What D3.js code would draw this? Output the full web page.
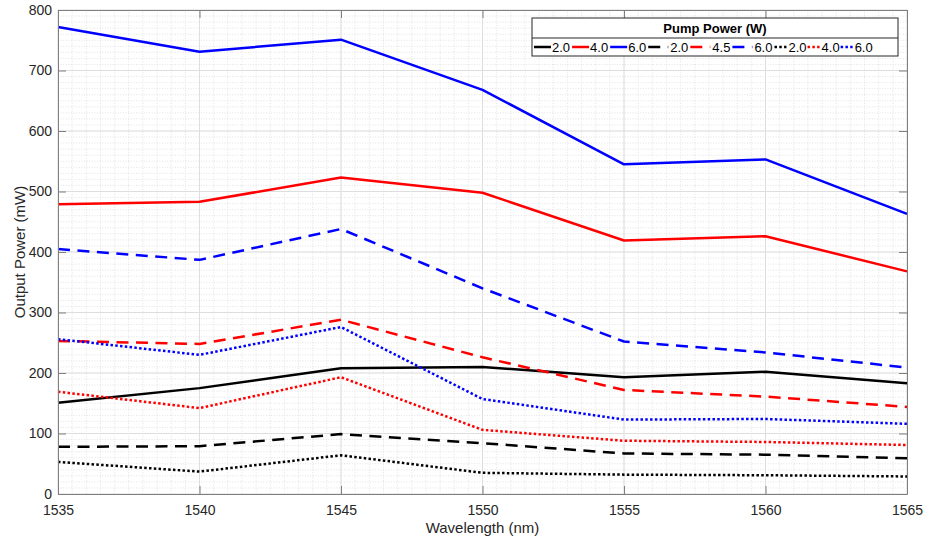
<!DOCTYPE html>
<html>
<head>
<meta charset="utf-8">
<script src="https://cdn.jsdelivr.net/npm/d3@7"></script>
<style>
  html, body { margin: 0; padding: 0; background: #fff; }
  svg { display: block; font-family: "Liberation Sans", Arial, sans-serif; }
</style>
</head>
<body>
<svg id="chart" width="926" height="541"></svg>
<script>
// Wavelength sweep (nm)
const wavelengths = [1535, 1540, 1545, 1550, 1555, 1560, 1565];

// Output power (mW) per configuration
const solid_2_0  = [151, 175, 208, 210, 193, 202, 183];
const solid_4_0  = [479, 483, 523, 498, 419, 426, 368];
const solid_6_0  = [772, 731, 751, 668, 545, 553, 463];
const dashed_2_0 = [78, 79, 99, 84, 67, 65, 59];
const dashed_4_5 = [253, 248, 288, 226, 172, 161, 144];
const dashed_6_0 = [405, 387, 438, 340, 252, 234, 209];
const dotted_2_0 = [53, 37, 64, 35, 32, 31, 29];
const dotted_4_0 = [169, 142, 193, 106, 88, 86, 81];
const dotted_6_0 = [256, 230, 276, 157, 123, 124, 116];

// Pump power labels, in legend order
const pumpLabels = ["2.0", "4.0", "6.0", "2.0", "4.5", "6.0", "2.0", "4.0", "6.0"];

const xTicks = [1535, 1540, 1545, 1550, 1555, 1560, 1565];
const yTicks = [0, 100, 200, 300, 400, 500, 600, 700, 800];

const styles = {
  solid:  { dash: null,      width: 2.5 },
  dashed: { dash: "12,7.5",  width: 2.5 },
  dotted: { dash: "2.5,2.3", width: 2.5 }
};

const series = [
  { values: solid_2_0,  color: "#000000", style: "solid"  },
  { values: solid_4_0,  color: "#ff0000", style: "solid"  },
  { values: solid_6_0,  color: "#0000ff", style: "solid"  },
  { values: dashed_2_0, color: "#000000", style: "dashed" },
  { values: dashed_4_5, color: "#ff0000", style: "dashed" },
  { values: dashed_6_0, color: "#0000ff", style: "dashed" },
  { values: dotted_2_0, color: "#000000", style: "dotted" },
  { values: dotted_4_0, color: "#ff0000", style: "dotted" },
  { values: dotted_6_0, color: "#0000ff", style: "dotted" }
].map((s, i) => ({ ...s, label: pumpLabels[i] }));

const svg = d3.select("#chart");
const margin = { left: 58, right: 19, top: 10, bottom: 47 };
const W = 926, H = 541;
const x0 = margin.left, x1 = W - margin.right, y0 = H - margin.bottom, y1 = margin.top;

const x = d3.scaleLinear().domain([1535, 1565]).range([x0, x1]);
const y = d3.scaleLinear().domain([0, 800]).range([y0, y1]);

// Minor grid
const xMinor = d3.range(1535, 1565.001, 0.5);
const yMinor = d3.range(0, 800.001, 10);
const grid = svg.append("g");
grid.selectAll("line.xm").data(xMinor).enter().append("line")
  .attr("x1", d => x(d)).attr("x2", d => x(d)).attr("y1", y0).attr("y2", y1)
  .attr("stroke", "#dcdcdc").attr("stroke-width", 0.8).attr("stroke-dasharray", "1,1.6");
grid.selectAll("line.ym").data(yMinor).enter().append("line")
  .attr("y1", d => y(d)).attr("y2", d => y(d)).attr("x1", x0).attr("x2", x1)
  .attr("stroke", "#dcdcdc").attr("stroke-width", 0.8).attr("stroke-dasharray", "1,1.6");

// Major grid
grid.selectAll("line.xM").data(xTicks).enter().append("line")
  .attr("x1", d => x(d)).attr("x2", d => x(d)).attr("y1", y0).attr("y2", y1)
  .attr("stroke", "#dedede").attr("stroke-width", 1);
grid.selectAll("line.yM").data(yTicks).enter().append("line")
  .attr("y1", d => y(d)).attr("y2", d => y(d)).attr("x1", x0).attr("x2", x1)
  .attr("stroke", "#dedede").attr("stroke-width", 1);

// Data lines
const line = d3.line().x((d, i) => x(wavelengths[i])).y(d => y(d));
const plot = svg.append("g");
series.forEach(s => {
  plot.append("path")
    .attr("d", line(s.values))
    .attr("fill", "none")
    .attr("stroke", s.color)
    .attr("stroke-width", styles[s.style].width)
    .attr("stroke-dasharray", styles[s.style].dash)
    .attr("stroke-linejoin", "round");
});

// Axes (ticks inward, mirrored on top/right)
const axisColor = "#7f7f7f";
const tickLen = 8;
const xAxis = d3.axisBottom(x).tickValues(xTicks).tickFormat(d3.format("d")).tickSizeInner(-tickLen).tickSizeOuter(0).tickPadding(11);
const yAxis = d3.axisLeft(y).tickValues(yTicks).tickFormat(d3.format("d")).tickSizeInner(-tickLen).tickSizeOuter(0).tickPadding(6);
const xTop = d3.axisTop(x).tickValues(xTicks).tickFormat("").tickSizeInner(-tickLen).tickSizeOuter(0);
const yRight = d3.axisRight(y).tickValues(yTicks).tickFormat("").tickSizeInner(-tickLen).tickSizeOuter(0);

function styleAxis(g) {
  g.select(".domain").attr("stroke", axisColor);
  g.selectAll(".tick line").attr("stroke", axisColor);
  g.selectAll(".tick text").attr("fill", "#262626").style("font-size", "14px")
    .style("font-family", "'Liberation Sans', Arial, sans-serif");
}
svg.append("g").attr("transform", `translate(0,${y0})`).call(xAxis).call(styleAxis);
svg.append("g").attr("transform", `translate(${x0},0)`).call(yAxis).call(styleAxis);
svg.append("g").attr("transform", `translate(0,${y1})`).call(xTop).call(styleAxis);
svg.append("g").attr("transform", `translate(${x1},0)`).call(yRight).call(styleAxis);

// Axis titles
svg.append("text")
  .attr("x", (x0 + x1) / 2).attr("y", 533)
  .attr("text-anchor", "middle").attr("fill", "#262626")
  .style("font-size", "15px")
  .text("Wavelength (nm)");
svg.append("text")
  .attr("transform", `translate(25,${(y0 + y1) / 2}) rotate(-90)`)
  .attr("text-anchor", "middle").attr("fill", "#262626")
  .style("font-size", "15px")
  .text("Output Power (mW)");

// Legend
const lg = svg.append("g");
const lgLeft = 532, lgRight = 898, lgTop = 18, lgBottom = 56, lgSep = 38;
lg.append("rect")
  .attr("x", lgLeft).attr("y", lgTop).attr("width", lgRight - lgLeft).attr("height", lgBottom - lgTop)
  .attr("fill", "#fff").attr("stroke", "#262626").attr("stroke-width", 1);
lg.append("line")
  .attr("x1", lgLeft).attr("x2", lgRight).attr("y1", lgSep).attr("y2", lgSep)
  .attr("stroke", "#262626").attr("stroke-width", 1);
lg.append("text")
  .attr("x", (lgLeft + lgRight) / 2).attr("y", 33)
  .attr("text-anchor", "middle").attr("fill", "#000")
  .style("font-size", "13px").style("font-weight", "bold")
  .text("Pump Power (W)");

const iconLayout = {
  solid:  { len: 17, gap: 1, trail: 2 },
  dashed: { len: 20, gap: 2, trail: 2 },
  dotted: { len: 12, gap: 2, trail: 1 }
};
let cx = 534;
const rowY = 47;
series.forEach(s => {
  const L = iconLayout[s.style];
  lg.append("line")
    .attr("x1", cx).attr("x2", cx + L.len).attr("y1", rowY).attr("y2", rowY)
    .attr("stroke", s.color).attr("stroke-width", styles[s.style].width)
    .attr("stroke-dasharray", styles[s.style].dash);
  const t = lg.append("text")
    .attr("x", cx + L.len + L.gap).attr("y", rowY + 5)
    .attr("fill", "#000").style("font-size", "13px")
    .text(s.label);
  const tw = t.node().getComputedTextLength();
  cx += L.len + L.gap + tw + L.trail;
});
</script>
</body>
</html>
